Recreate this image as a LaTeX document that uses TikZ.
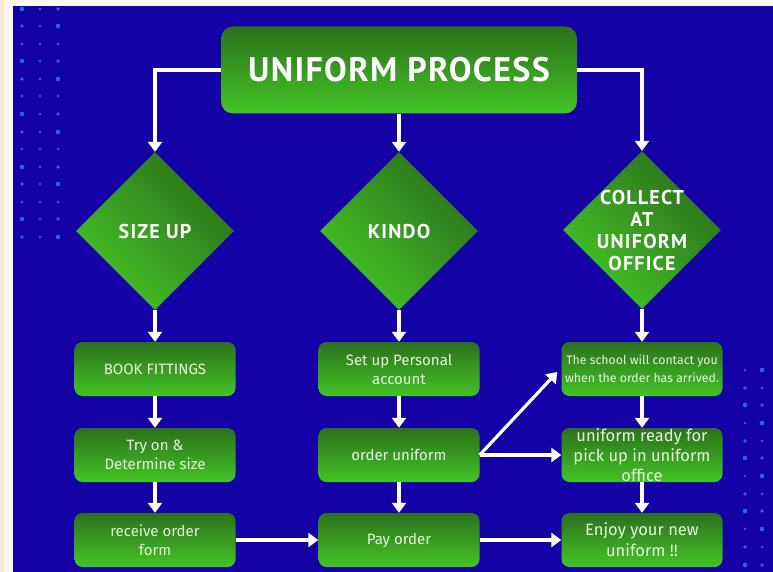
\documentclass[tikz,border=0pt]{standalone}
\usepackage{fontspec}
\setmainfont{Fira Sans}
\newfontfamily\headfont{PT Sans}
\usetikzlibrary{arrows.meta,shapes.geometric,calc}
\definecolor{bg}{HTML}{1502A6}
\definecolor{beige}{HTML}{F4E8D6}
\definecolor{stripw}{HTML}{FBF8F4}
\definecolor{gdark}{HTML}{2C701C}
\definecolor{glight}{HTML}{44C426}
\definecolor{boxtext}{HTML}{E6F6DE}
\definecolor{dotc}{HTML}{2E62E6}
\begin{document}
\begin{tikzpicture}[x=1pt,y=-1pt,
  stepbox/.style={rounded corners=8pt, top color=gdark, bottom color=glight,
    minimum width=161pt, minimum height=54pt, inner sep=0pt, text=boxtext,
    align=center, font=\fontsize{15}{19}\selectfont},
  decision/.style={diamond, aspect=1, minimum width=158pt, minimum height=158pt,
    inner sep=0pt, top color=gdark, bottom color=glight, shading angle=-45},
  headtext/.style={text=white, align=center, font=\headfont\bfseries\fontsize{20}{22}\selectfont\addfontfeature{LetterSpace=6}},
  arr/.style={draw=white, line width=3.2pt, -{Triangle[width=14pt,length=10pt]}},
  dot/.style={fill=dotc}
]
\useasboundingbox (0,0) rectangle (773,572);
\fill[stripw] (0,0) rectangle (773,6);
\fill[beige] (0,0) rectangle (4,572);
\fill[stripw] (4,6) rectangle (13,572);
\fill[bg] (13,6) rectangle (773,572);

% dots left
\foreach \yy [count=\i] in {9,26,44,61,79,96,114,132,149,167,184,202,219,237} {
  \foreach \xx [count=\j] in {22,40,58} {
    \pgfmathsetmacro{\rr}{1.3+1.0*mod(\i*\j+\i,3)/2}
    \fill[dot] (\xx,\yy) circle (\rr pt);
  }
}
% dots right
\foreach \yy [count=\i] in {370,388,405,423,441,458,476,494,511,529,547,565} {
  \foreach \xx [count=\j] in {745,762} {
    \pgfmathsetmacro{\rr}{1.3+1.0*mod(\i+2*\j,3)/2}
    \fill[dot] (\xx,\yy) circle (\rr pt);
  }
}

% title
\node[rounded corners=12pt, top color=gdark, bottom color=glight,
  minimum width=356pt, minimum height=87pt, inner sep=0pt, text=white,
  font=\headfont\bfseries\fontsize{34}{36}\selectfont] (title) at (399,70)
  {\addfontfeature{LetterSpace=4}UNIFORM PROCESS};

% decisions
\node[decision] (d1) at (155,231) {};
\node[decision] (d2) at (399,231) {};
\node[decision] (d3) at (642,230) {};
\node[headtext] (t1) at (d1.center) {SIZE UP};
\node[headtext] (t2) at (d2.center) {KINDO};
\node[headtext] (t3) at (d3.center) {COLLECT\\AT\\UNIFORM\\OFFICE};

% boxes
\node[stepbox] (b11) at (155,369) {BOOK FITTINGS};
\node[stepbox] (b12) at (155,455) {Try on \&\\Determine size};
\node[stepbox] (b13) at (155,540) {receive order\\form};
\node[stepbox] (b21) at (399,369) {Set up Personal\\account};
\node[stepbox] (b22) at (399,455) {order uniform};
\node[stepbox] (b23) at (399,540) {Pay order};
\node[stepbox, font=\fontsize{12.3}{18}\selectfont] (b31) at (642,369) {The school will contact you\\when the order has arrived.};
\node[stepbox, font=\fontsize{16.5}{20}\selectfont] (b32) at (642,455) {uniform ready for\\pick up in uniform\\office};
\node[stepbox, font=\fontsize{16.5}{21}\selectfont] (b33) at (642,540) {Enjoy your new\\uniform !!};

% connectors
\draw[arr] (title.west) -- (d1.north |- title.west) -- (d1.north);
\draw[arr] (title.south) -- (d2.north);
\draw[arr] (title.east) -- (d3.north |- title.east) -- (d3.north);
\draw[arr] (d1.south) -- (b11.north);
\draw[arr] (d2.south) -- (b21.north);
\draw[arr] (d3.south) -- (b31.north);
\draw[arr] (b11.south) -- (b12.north);
\draw[arr] (b12.south) -- (b13.north);
\draw[arr] (b21.south) -- (b22.north);
\draw[arr] (b22.south) -- (b23.north);
\draw[arr] (b31.south) -- (b32.north);
\draw[arr] (b32.south) -- (b33.north);
\draw[arr] (b13.east) -- (b23.west);
\draw[arr] (b23.east) -- (b33.west);
\draw[arr] (b22.east) -- (b32.west);
\coordinate (diagend) at ($(b31.west)+(-4,3)$);
\draw[arr] (b22.east) -- (diagend);
\end{tikzpicture}
\end{document}
